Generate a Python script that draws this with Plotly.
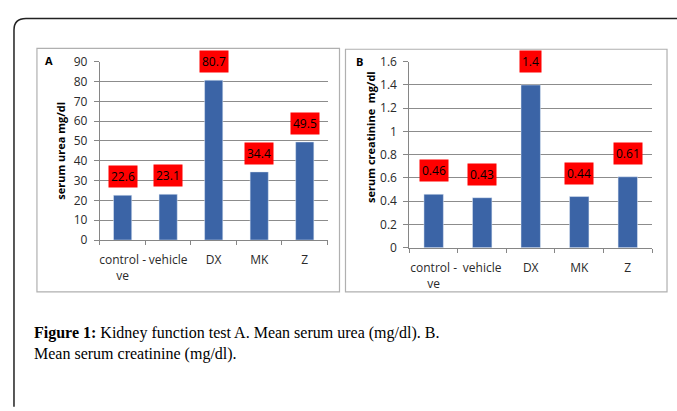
import plotly.graph_objects as go

W, H = 677, 411
categories = ["control -<br>ve", "vehicle", "DX", "MK", "Z"]
urea = [22.6, 23.1, 80.7, 34.4, 49.5]
urea_labels = ["22.6", "23.1", "80.7", "34.4", "49.5"]
creat = [0.46, 0.43, 1.4, 0.44, 0.61]
creat_labels = ["0.46", "0.43", "1.4", "0.44", "0.61"]
urea_ticks = [0, 10, 20, 30, 40, 50, 60, 70, 80, 90]
creat_ticks = [0, 0.2, 0.4, 0.6, 0.8, 1.0, 1.2, 1.4, 1.6]
creat_ticktext = ["0", "0.2", "0.4", "0.6", "0.8", "1", "1.2", "1.4", "1.6"]

BAR = "#3B64A6"
TXT = "#2a2a2a"
FONT = "Open Sans"

def px(x):
    return x / W

def py(y):
    return 1 - y / H

fig = go.Figure()
fig.add_trace(go.Bar(x=categories, y=urea, marker_color=BAR, xaxis="x", yaxis="y",
                     hoverinfo="skip"))
fig.add_trace(go.Bar(x=categories, y=creat, marker_color=BAR, xaxis="x2", yaxis="y2",
                     hoverinfo="skip"))

axis_common = dict(showline=True, linecolor="#868686", linewidth=1,
                   tickfont=dict(family=FONT, size=12, color=TXT))

xcommon = dict(type="category", ticks="outside", tickson="boundaries", ticklen=4,
               tickcolor="#868686", tickangle=0, ticklabelstandoff=9, **axis_common)
ycommon = dict(showgrid=True, gridcolor="#8c8c8c", gridwidth=1, ticks="outside",
               ticklen=5, tickcolor="#868686", zeroline=False, ticklabelstandoff=4,
               **axis_common)

fig.update_layout(
    width=W, height=H, margin=dict(l=0, r=0, t=0, b=0),
    paper_bgcolor="white", plot_bgcolor="white", showlegend=False,
    bargap=0.6,
    xaxis=dict(domain=[px(99), px(327)], anchor="y", **xcommon),
    yaxis=dict(domain=[py(241), py(55)], anchor="x", range=[0, 90],
               tickvals=urea_ticks, **ycommon),
    xaxis2=dict(domain=[px(409), px(652)], anchor="y2", **xcommon),
    yaxis2=dict(domain=[py(249), py(55)], anchor="x2", range=[0, 1.6],
                tickvals=creat_ticks, ticktext=creat_ticktext, **ycommon),
)

shapes = [
    dict(type="path", xref="paper", yref="paper",
         path=f"M {px(13)} {py(415)} L {px(13)} {py(22)} Q {px(13)} {py(10)} {px(25)} {py(10)} L {px(690)} {py(10)}",
         line=dict(color="#222222", width=1.5)),
    dict(type="rect", xref="paper", yref="paper", x0=px(36), x1=px(339), y0=py(295), y1=py(41),
         line=dict(color="#b0b0b0", width=1.2), layer="below"),
    dict(type="rect", xref="paper", yref="paper", x0=px(345), x1=px(667), y0=py(295), y1=py(42),
         line=dict(color="#b0b0b0", width=1.2), layer="below"),
]
fig.update_layout(shapes=shapes)

ann = []
for c, v, t in zip(categories, urea, urea_labels):
    ann.append(dict(x=c, y=v, xref="x", yref="y", text=t, showarrow=False,
                    yanchor="bottom", yshift=7, bgcolor="#FF0000", borderpad=2,
                    font=dict(family=FONT, size=12, color="black")))
for c, v, t in zip(categories, creat, creat_labels):
    ann.append(dict(x=c, y=v, xref="x2", yref="y2", text=t, showarrow=False,
                    yanchor="bottom", yshift=12, bgcolor="#FF0000", borderpad=2,
                    font=dict(family=FONT, size=12, color="black")))

def paper_text(x, y, text, size=11, angle=0):
    return dict(x=px(x), y=py(y), xref="paper", yref="paper", text=text,
                xanchor="center", yanchor="middle", textangle=angle, showarrow=False,
                font=dict(family=FONT, size=size, color="black"))

ann.append(paper_text(48, 54, "<b>A</b>"))
ann.append(paper_text(359, 55, "<b>B</b>"))
ann.append(paper_text(60, 148, "<b>serum urea mg/dl</b>", angle=-90))
ann.append(paper_text(370, 133, "<b>serum creatinine  mg/dl</b>", angle=-90))
ann.append(dict(x=px(31), y=py(327), xref="paper", yref="paper", xanchor="left", yanchor="top",
                align="left", showarrow=False,
                text="<b>Figure 1:</b> Kidney function test A. Mean serum urea (mg/dl). B.<br>Mean serum creatinine (mg/dl).",
                font=dict(family="Liberation Serif", size=16, color="black")))
fig.update_layout(annotations=ann)

fig.write_html("out.html", config={"displayModeBar": False},
               post_script="document.body.style.margin='0';document.body.style.overflow='hidden';")
